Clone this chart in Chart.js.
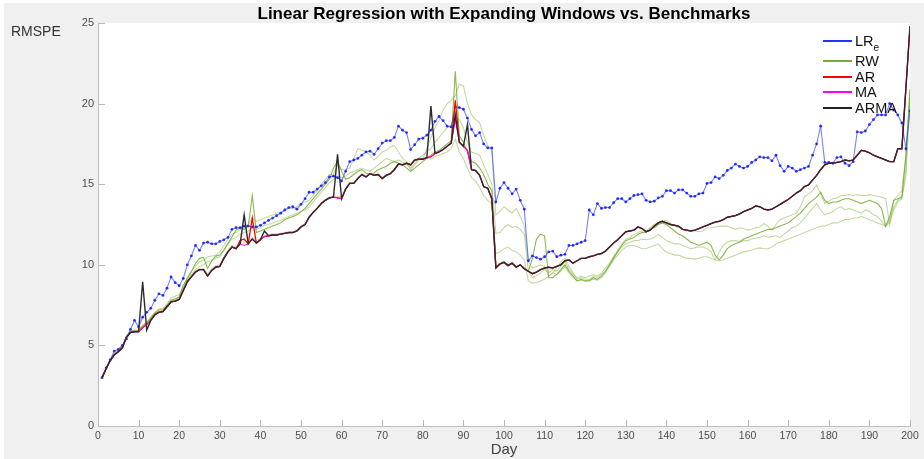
<!DOCTYPE html>
<html>
<head>
<meta charset="utf-8">
<script src="https://cdn.jsdelivr.net/npm/chart.js@4.4.1/dist/chart.umd.min.js"></script>
<style>
  html, body { margin: 0; padding: 0; background: #ffffff; }
  #wrap { position: relative; width: 924px; height: 459px; overflow: hidden; font-family: "Liberation Sans", Arial, Helvetica, sans-serif; }
  #c { position: absolute; left: 0; top: 0; }
  .txt { position: absolute; white-space: nowrap; line-height: 1; }
  #title { left: 504px; top: 13px; transform: translate(-50%, -50%); font-weight: bold; font-size: 17px; color: #000; }
  #ylab { left: 11px; top: 31px; transform: translateY(-50%); font-size: 14px; color: #333; }
  #xlab { left: 504px; top: 448px; transform: translate(-50%, -50%); font-size: 15px; color: #444; }
  .leg { position: absolute; left: 823px; height: 0; }
  .leg .sw { position: absolute; left: 0; width: 29px; height: 2px; top: -1px; }
  .leg .lt { position: absolute; left: 32px; top: 0; transform: translateY(-50%); font-size: 14.5px; color: #111; white-space: nowrap; line-height: 1; }
  .leg .lt sub { font-size: 10px; vertical-align: -5px; line-height: 0; }
</style>
</head>
<body>
<div id="wrap">
  <canvas id="c" width="924" height="459"></canvas>
  <div class="txt" id="title">Linear Regression with Expanding Windows vs. Benchmarks</div>
  <div class="txt" id="ylab">RMSPE</div>
  <div class="txt" id="xlab">Day</div>
  <div class="leg" style="top:41px"><div class="sw" style="background:#2233ff"></div><div class="lt">LR<sub>e</sub></div></div>
  <div class="leg" style="top:61px"><div class="sw" style="background:#77AC30"></div><div class="lt">RW</div></div>
  <div class="leg" style="top:77px"><div class="sw" style="background:#ff0000"></div><div class="lt">AR</div></div>
  <div class="leg" style="top:92px"><div class="sw" style="background:#ff00ff"></div><div class="lt">MA</div></div>
  <div class="leg" style="top:108px"><div class="sw" style="background:#222222"></div><div class="lt">ARMA</div></div>
</div>
<script>
// ---------- categories & ticks ----------
const days = Array.from({ length: 200 }, (_, i) => i + 1);
const xTickValues = [0, 10, 20, 30, 40, 50, 60, 70, 80, 90, 100, 110, 120, 130, 140, 150, 160, 170, 180, 190, 200];
const yTickValues = [0, 5, 10, 15, 20, 25];

// ---------- series values ----------
const LRe = [
  3.0, 3.6, 4.1, 4.65, 4.75, 5.0, 5.4, 6.0, 6.55, 6.15,
  6.75, 7.05, 7.3, 7.8, 8.2, 8.1, 8.55, 9.25, 8.9, 8.7,
  9.15, 10.0, 10.55, 11.2, 10.9, 11.35, 11.4, 11.3, 11.3, 11.45,
  11.55, 11.7, 12.2, 12.3, 12.3, 12.4, 12.4, 12.35, 12.35, 12.45,
  12.6, 12.75, 12.9, 13.05, 13.2, 13.4, 13.55, 13.6, 13.45, 13.75,
  14.1, 14.5, 14.5, 14.7, 14.9, 15.1, 15.45, 15.5, 15.4, 15.2,
  15.8, 16.4, 16.5, 16.6, 16.8, 17.0, 17.05, 16.85, 17.2, 17.55,
  17.7, 17.7, 17.9, 18.6, 18.35, 18.2, 17.15, 17.45, 17.8, 17.85,
  18.05, 18.35, 18.9, 19.2, 18.95, 18.6, 18.55, 19.8, 19.75, 19.65,
  19.1, 18.4, 18.0, 18.2, 17.5, 17.25, 17.25, 13.9, 14.75, 15.1,
  14.75, 14.4, 14.7, 14.0, 13.45, 10.25, 10.55, 10.45, 10.35, 10.5,
  10.8, 10.85, 10.5, 10.6, 10.65, 11.2, 11.2, 11.3, 11.4, 11.5,
  13.4, 13.1, 13.8, 13.5, 13.55, 13.55, 13.85, 14.1, 14.1, 13.9,
  14.1, 14.3, 14.35, 14.4, 14.0, 13.9, 13.95, 14.15, 14.25, 14.6,
  14.6, 14.45, 14.65, 14.65, 14.45, 14.25, 14.25, 14.4, 14.45, 15.05,
  15.1, 15.45, 15.35, 15.55, 15.85, 16.0, 16.25, 16.1, 16.0, 16.1,
  16.35, 16.5, 16.7, 16.65, 16.65, 16.45, 16.8, 16.15, 15.8, 16.1,
  16.0, 15.8, 15.9, 16.0, 16.1, 16.8, 17.5, 18.6, 16.35, 16.35,
  16.3, 16.65, 16.7, 16.3, 16.15, 16.4, 18.25, 18.2, 18.3, 18.7,
  19.0, 19.3, 19.3, 19.3, 20.0, 19.6, 19.3, 18.8, 17.2, 19.55
];

const RW = [
  3.0, 3.6, 4.1, 4.45, 4.65, 4.9, 5.55, 5.85, 5.9, 5.9,
  6.2, 6.4, 6.7, 7.0, 7.2, 7.2, 7.5, 7.8, 7.9, 8.0,
  8.74, 9.15, 9.57, 10.08, 10.4, 10.46, 9.77, 10.25, 10.54, 10.6,
  10.91, 11.33, 11.74, 12.15, 12.3, 12.2, 12.4, 14.3, 12.0, 12.1,
  12.2, 12.3, 12.4, 12.5, 12.6, 12.8, 12.9, 13.0, 13.1, 13.3,
  13.5, 13.8, 14.1, 14.4, 14.7, 15.0, 15.3, 16.0, 16.4, 15.8,
  15.3, 15.4, 15.6, 15.8, 15.9, 15.7, 15.6, 15.7, 15.9, 16.0,
  16.1, 16.3, 16.4, 16.3, 16.2, 16.0, 15.8, 16.0, 16.2, 16.4,
  16.6, 16.8, 17.0, 17.1, 17.3, 17.5, 17.7, 22.0, 18.0, 17.6,
  17.0, 16.4, 16.3, 16.0, 15.6, 15.0, 14.6, 9.9, 10.1, 10.2,
  10.0, 10.1, 9.9, 10.0, 9.8, 9.6, 10.4, 11.6, 11.9, 11.8,
  9.2, 9.2, 9.4, 9.7, 10.0, 9.6, 9.3, 9.0, 9.1, 9.0,
  9.0, 9.2, 9.1, 9.3, 9.6, 10.0, 10.4, 10.8, 11.2, 11.5,
  11.6, 11.7, 11.9, 12.0, 12.0, 12.2, 12.3, 12.5, 12.6, 12.5,
  12.3, 12.1, 11.9, 11.8, 11.6, 11.4, 11.3, 11.2, 11.3, 11.4,
  11.2, 10.6, 10.3, 10.6, 11.0, 11.2, 11.3, 11.4, 11.6, 11.7,
  11.8, 11.9, 12.0, 12.1, 12.2, 12.2, 12.3, 12.4, 12.5, 12.6,
  12.8, 13.0, 13.2, 13.5, 13.8, 14.0, 14.2, 14.5, 14.0, 13.8,
  13.9, 13.9, 14.0, 14.1, 14.1, 14.0, 13.9, 13.8, 13.9, 14.0,
  13.9, 13.8, 13.5, 12.4, 13.0, 14.0, 14.1, 14.2, 16.8, 20.9
];

const RW2 = [
  3.0, 3.6, 4.1, 4.5, 4.7, 4.95, 5.6, 5.9, 5.95, 5.95,
  6.25, 6.45, 6.75, 7.05, 7.25, 7.3, 7.6, 7.95, 8.05, 8.15,
  8.6, 9.2, 9.6, 9.9, 10.2, 10.3, 10.5, 10.55, 10.6, 10.8,
  11.2, 11.6, 11.9, 12.0, 12.2, 12.3, 12.5, 12.9, 12.7, 12.8,
  12.9, 13.0, 13.1, 13.2, 13.25, 13.4, 13.5, 13.5, 13.6, 13.8,
  13.9, 14.0, 14.3, 14.6, 15.0, 15.3, 15.6, 15.6, 16.2, 15.9,
  15.9, 16.0, 16.6, 17.2, 17.1, 17.0, 16.8, 16.5, 16.7, 17.0,
  17.1, 17.3, 17.4, 17.0, 16.6, 16.4, 15.9, 16.2, 16.5, 16.6,
  17.2, 17.9, 18.5, 19.0, 19.6, 20.0, 20.2, 20.5, 21.2, 21.1,
  20.0, 19.3, 19.0, 18.8, 18.0, 17.4, 17.1, 13.1, 13.3, 13.6,
  13.4, 13.2, 13.5, 13.0, 12.4, 10.2, 9.8, 9.9, 10.0, 9.9,
  9.3, 9.5, 9.8, 10.2, 10.4, 9.9, 9.5, 9.1, 9.2, 9.1,
  9.1, 9.3, 9.2, 9.4, 9.6, 10.0, 10.5, 10.9, 11.3, 11.6,
  11.7, 11.9, 12.0, 12.1, 12.1, 12.3, 12.5, 12.6, 12.7, 12.75,
  12.6, 12.4, 12.3, 12.2, 12.1, 12.1, 12.1, 12.05, 12.1, 12.3,
  12.3, 12.35, 12.4, 12.4, 12.4, 12.3, 12.2, 12.3, 12.25, 12.15,
  12.2, 12.3, 12.35, 12.55, 12.4, 12.15, 12.5, 12.8, 12.9, 13.0,
  13.1, 13.2, 13.6, 14.2, 14.4, 14.6, 14.95, 14.4, 13.8, 13.95,
  14.1, 14.15, 14.3, 14.3, 14.35, 14.3, 14.35, 14.3, 14.3, 14.35,
  14.3, 14.25, 14.2, 14.1, 12.5, 14.0, 14.3, 14.6, 16.8, 20.8
];

const RW3 = [
  3.0, 3.58, 4.08, 4.45, 4.65, 4.9, 5.55, 5.85, 5.9, 5.9,
  6.15, 6.35, 6.6, 6.95, 7.1, 7.15, 7.45, 7.75, 7.85, 7.95,
  8.5, 9.05, 9.4, 9.7, 9.9, 10.0, 10.2, 10.25, 10.4, 10.5,
  10.9, 11.3, 11.6, 11.7, 11.9, 12.0, 12.1, 12.3, 12.2, 12.3,
  12.45, 12.5, 12.6, 12.7, 12.75, 12.9, 13.0, 13.1, 13.2, 13.3,
  13.4, 13.6, 13.9, 14.2, 14.5, 14.8, 15.1, 15.3, 15.5, 15.4,
  15.5, 15.7, 15.8, 15.9, 16.0, 15.9, 15.8, 16.0, 16.2, 16.4,
  16.6, 16.5, 16.4, 16.5, 16.4, 16.2, 16.0, 16.3, 16.6, 16.8,
  17.0, 17.2, 17.6, 17.9, 18.2, 18.5, 18.7, 19.2, 19.0, 18.5,
  17.6, 17.0, 16.9, 16.8, 16.2, 15.6, 15.0, 11.95, 12.0, 12.3,
  12.5, 12.3, 12.4, 12.2, 11.9, 9.6, 9.2, 9.3, 9.5, 9.7,
  9.5, 9.7, 9.6, 9.9, 10.2, 9.7, 9.4, 9.2, 9.3, 9.2,
  9.3, 9.4, 9.3, 9.5, 9.8, 10.1, 10.5, 10.8, 11.1, 11.3,
  11.4, 11.5, 11.5, 11.6, 11.55, 11.6, 11.7, 11.9, 11.7, 11.5,
  11.4, 11.3, 11.3, 11.2, 11.1, 11.0, 11.05, 11.1, 11.1, 11.0,
  10.8, 10.3, 10.8, 11.2, 11.4, 11.5, 11.5, 11.45, 11.5, 11.5,
  11.6, 11.65, 11.7, 11.8, 11.7, 11.75, 11.8, 11.7, 11.9, 12.1,
  12.3, 12.4, 12.6, 12.9, 13.2, 13.5, 13.8, 13.4, 13.1, 13.2,
  13.3, 13.5, 13.6, 13.4, 13.5, 13.4, 13.3, 13.2, 13.4, 13.3,
  13.1, 13.0, 12.7, 12.4, 12.8, 13.6, 14.0, 14.2, 16.0, 20.6
];

const RW4 = [
  3.0, 3.57, 4.07, 4.42, 4.62, 4.87, 5.52, 5.82, 5.87, 5.87,
  6.12, 6.32, 6.58, 6.92, 7.08, 7.12, 7.42, 7.72, 7.78, 7.88,
  8.45, 9.0, 9.3, 9.6, 9.75, 9.75, 9.4, 9.75, 9.95, 10.0,
  10.5, 10.9, 11.2, 11.1, 11.4, 11.35, 11.4, 11.7, 11.5, 11.65,
  11.8, 11.85, 11.9, 11.9, 11.95, 12.0, 12.05, 12.05, 12.15, 12.4,
  12.55, 13.0, 13.3, 13.55, 13.85, 14.05, 14.2, 14.25, 14.25, 14.2,
  14.75, 15.1, 15.1, 15.4, 15.65, 15.5, 15.7, 15.6, 15.65, 15.4,
  15.6, 15.7, 15.95, 16.3, 16.25, 16.35, 16.25, 16.55, 16.6, 16.6,
  16.6, 16.55, 16.7, 16.8, 16.9, 17.0, 17.2, 17.8, 17.0, 16.6,
  16.0, 15.4, 15.2, 14.8, 14.3, 14.0, 13.8, 10.7, 10.8, 11.0,
  11.1, 10.9, 10.8, 10.6, 10.3, 9.0, 8.85, 8.9, 9.0, 9.1,
  9.3, 9.5, 9.4, 9.6, 9.9, 9.5, 9.2, 9.0, 9.05, 9.0,
  9.05, 9.1, 9.05, 9.2, 9.5, 9.9, 10.3, 10.6, 10.9, 11.1,
  11.2, 11.2, 11.1, 11.0, 11.0, 11.1, 11.2, 11.3, 11.0, 10.8,
  10.7, 10.6, 10.6, 10.5, 10.4, 10.4, 10.35, 10.4, 10.5, 10.5,
  10.4, 10.3, 10.25, 10.3, 10.4, 10.5, 10.6, 10.7, 10.8, 10.85,
  10.9, 11.0, 11.05, 11.0, 11.0, 11.1, 11.3, 11.4, 11.5, 11.6,
  11.7, 11.8, 11.9, 12.0, 12.1, 12.2, 12.3, 12.4, 12.4, 12.5,
  12.6, 12.6, 12.7, 12.8, 12.8, 12.9, 12.9, 13.0, 12.9, 12.8,
  12.7, 12.6, 12.5, 12.4, 12.6, 13.4, 13.9, 14.1, 15.5, 20.4
];

const AR = [
  3.0, 3.55, 4.05, 4.4, 4.6, 4.85, 5.5, 5.8, 5.85, 5.85,
  6.1, 6.3, 6.55, 6.9, 7.05, 7.1, 7.4, 7.7, 7.75, 7.85,
  8.4, 8.95, 9.25, 9.55, 9.7, 9.7, 9.3, 9.65, 9.85, 9.9,
  10.4, 10.8, 11.1, 11.0, 11.5, 11.6, 11.3, 12.9, 11.35, 11.55,
  11.75, 11.8, 11.85, 11.85, 11.9, 11.95, 12.0, 12.0, 12.1, 12.35,
  12.5, 12.95, 13.25, 13.5, 13.8, 14.0, 14.15, 14.2, 14.15, 14.1,
  14.7, 15.05, 15.05, 15.35, 15.6, 15.45, 15.65, 15.55, 15.6, 15.35,
  15.55, 15.65, 15.9, 16.25, 16.2, 16.3, 16.2, 16.5, 16.55, 16.55,
  16.65, 16.7, 16.9, 17.0, 17.15, 17.35, 17.55, 20.2, 17.6, 17.35,
  17.1, 15.9, 15.85, 15.55, 14.85, 14.75, 14.1, 9.8, 10.05, 10.15,
  9.95, 10.1, 9.85, 10.0, 9.75, 9.6, 9.45, 9.55, 9.7, 9.8,
  9.85, 9.8, 9.9, 10.0, 10.25, 10.3, 10.1, 10.25, 10.4, 10.4,
  10.5, 10.55, 10.65, 10.7, 10.85, 11.1, 11.35, 11.55, 11.8, 12.05,
  12.1, 12.15, 12.35, 12.25, 12.05, 12.15, 12.4, 12.6, 12.7, 12.6,
  12.5, 12.45, 12.4, 12.2, 12.15, 12.1, 12.15, 12.25, 12.35, 12.45,
  12.55, 12.65, 12.7, 12.8, 12.95, 13.0, 13.05, 13.15, 13.3, 13.4,
  13.5, 13.65, 13.6, 13.45, 13.4, 13.45, 13.6, 13.75, 13.9, 14.05,
  14.25, 14.45, 14.6, 14.85, 14.95, 15.25, 15.55, 15.9, 16.2, 16.3,
  16.3, 16.35, 16.4, 16.5, 16.45, 16.5, 16.8, 17.1, 17.05, 16.95,
  16.8, 16.7, 16.6, 16.5, 16.4, 16.4, 17.2, 17.2, 21.0, 24.8
];

const MA = [
  3.0, 3.55, 4.05, 4.4, 4.6, 4.85, 5.5, 5.8, 5.85, 5.85,
  6.1, 6.3, 6.55, 6.9, 7.05, 7.1, 7.4, 7.7, 7.75, 7.85,
  8.4, 8.95, 9.25, 9.55, 9.7, 9.7, 9.3, 9.65, 9.85, 9.9,
  10.4, 10.8, 11.1, 11.0, 11.3, 11.2, 11.3, 11.6, 11.35, 11.55,
  11.75, 11.8, 11.85, 11.85, 11.9, 11.95, 12.0, 12.0, 12.1, 12.35,
  12.5, 12.95, 13.25, 13.5, 13.8, 14.0, 14.15, 14.2, 14.15, 14.1,
  14.7, 15.05, 15.05, 15.35, 15.6, 15.45, 15.65, 15.55, 15.6, 15.35,
  15.55, 15.65, 15.9, 16.25, 16.2, 16.3, 16.2, 16.5, 16.55, 16.55,
  16.65, 16.7, 16.9, 17.0, 17.15, 17.35, 17.55, 19.0, 17.6, 17.35,
  17.1, 15.9, 15.85, 15.55, 14.85, 14.75, 14.1, 9.8, 10.05, 10.15,
  9.95, 10.1, 9.85, 10.0, 9.75, 9.6, 9.45, 9.55, 9.7, 9.8,
  9.85, 9.8, 9.9, 10.0, 10.25, 10.3, 10.1, 10.25, 10.4, 10.4,
  10.5, 10.55, 10.65, 10.7, 10.85, 11.1, 11.35, 11.55, 11.8, 12.05,
  12.1, 12.15, 12.35, 12.25, 12.05, 12.15, 12.4, 12.6, 12.7, 12.6,
  12.5, 12.45, 12.4, 12.2, 12.15, 12.1, 12.15, 12.25, 12.35, 12.45,
  12.55, 12.65, 12.7, 12.8, 12.95, 13.0, 13.05, 13.15, 13.3, 13.4,
  13.5, 13.65, 13.6, 13.45, 13.4, 13.45, 13.6, 13.75, 13.9, 14.05,
  14.25, 14.45, 14.6, 14.85, 14.95, 15.25, 15.55, 15.9, 16.2, 16.3,
  16.3, 16.35, 16.4, 16.5, 16.45, 16.5, 16.8, 17.1, 17.05, 16.95,
  16.8, 16.7, 16.6, 16.5, 16.4, 16.4, 17.2, 17.2, 21.0, 24.8
];

const ARMA = [
  3.0, 3.55, 4.05, 4.4, 4.6, 4.85, 5.5, 5.8, 5.85, 5.85,
  8.95, 5.95, 6.55, 6.9, 7.05, 7.1, 7.4, 7.7, 7.75, 7.85,
  8.4, 8.95, 9.25, 9.55, 9.7, 9.7, 9.3, 9.65, 9.85, 9.9,
  10.4, 10.8, 11.1, 11.0, 11.3, 13.1, 11.3, 11.6, 11.35, 11.55,
  12.1, 11.8, 11.85, 11.85, 11.9, 11.95, 12.0, 12.0, 12.1, 12.35,
  12.5, 12.95, 13.25, 13.5, 13.8, 14.0, 14.15, 14.2, 16.85, 14.1,
  14.7, 15.05, 15.05, 15.35, 15.6, 15.45, 15.65, 15.55, 15.6, 15.35,
  15.55, 15.65, 15.9, 16.25, 16.2, 16.3, 16.2, 16.5, 16.55, 16.55,
  16.65, 19.85, 16.9, 17.0, 17.15, 17.35, 17.55, 19.3, 17.6, 17.35,
  18.7, 15.9, 15.85, 15.55, 14.85, 14.75, 14.1, 9.8, 10.05, 10.15,
  9.95, 10.1, 9.85, 10.0, 9.75, 9.6, 9.45, 9.55, 9.7, 9.8,
  9.85, 9.8, 9.9, 10.0, 10.25, 10.3, 10.1, 10.25, 10.4, 10.4,
  10.5, 10.55, 10.65, 10.7, 10.85, 11.1, 11.35, 11.55, 11.8, 12.05,
  12.1, 12.15, 12.35, 12.25, 12.05, 12.15, 12.4, 12.6, 12.7, 12.6,
  12.5, 12.45, 12.4, 12.2, 12.15, 12.1, 12.15, 12.25, 12.35, 12.45,
  12.55, 12.65, 12.7, 12.8, 12.95, 13.0, 13.05, 13.15, 13.3, 13.4,
  13.5, 13.65, 13.6, 13.45, 13.4, 13.45, 13.6, 13.75, 13.9, 14.05,
  14.25, 14.45, 14.6, 14.85, 14.95, 15.25, 15.55, 15.9, 16.2, 16.3,
  16.3, 16.35, 16.4, 16.5, 16.45, 16.5, 16.8, 17.1, 17.05, 16.95,
  16.8, 16.7, 16.6, 16.5, 16.4, 16.4, 17.2, 17.2, 21.0, 24.8
];

// ---------- build chart ----------
const pts = (arr) => arr.map((v, i) => ({ x: days[i], y: v }));

const bgPlugin = {
  id: 'bg',
  beforeDraw(chart) {
    const { ctx, chartArea: a } = chart;
    ctx.save();
    ctx.fillStyle = '#ffffff';
    ctx.fillRect(0, 0, chart.width, chart.height);
    ctx.fillStyle = '#f0f0f0';
    ctx.fillRect(4, 3, chart.width - 4, chart.height - 3);
    ctx.fillStyle = '#ffffff';
    ctx.fillRect(a.left, a.top, a.right - a.left, a.bottom - a.top);
    ctx.restore();
  },
  afterDraw(chart) {
    const { ctx, chartArea: a, scales } = chart;
    ctx.save();
    ctx.strokeStyle = '#b8b8b8';
    ctx.lineWidth = 1;
    ctx.beginPath();
    xTickValues.forEach(v => {
      const px = Math.round(scales.x.getPixelForValue(v)) + 0.5;
      ctx.moveTo(px, a.bottom);
      ctx.lineTo(px, a.bottom - 6);
    });
    yTickValues.forEach(v => {
      const py = Math.round(scales.y.getPixelForValue(v)) + 0.5;
      ctx.moveTo(a.left, py);
      ctx.lineTo(a.left + 7, py);
    });
    ctx.stroke();
    ctx.restore();
  }
};

const lightGreen = 'rgba(119,172,48,0.45)';
const common = { pointRadius: 0, borderWidth: 1.1, tension: 0, fill: false };

new Chart(document.getElementById('c'), {
  type: 'line',
  data: {
    datasets: [
      { label: 'ARMA', data: pts(ARMA), borderColor: '#2a2a2a', order: 0, ...common, borderWidth: 1.4 },
      { label: 'MA', data: pts(MA), borderColor: '#ff00ff', order: 1, ...common, borderWidth: 1.0 },
      { label: 'AR', data: pts(AR), borderColor: '#ff0000', order: 2, ...common, borderWidth: 1.3 },
      { label: 'LRe', data: pts(LRe), borderColor: 'rgba(30,45,255,0.6)', order: 3, ...common,
        pointRadius: 1.4, pointBackgroundColor: 'rgba(20,30,255,0.9)', pointBorderWidth: 0 },
      { label: 'RW', data: pts(RW), borderColor: 'rgba(119,172,48,0.85)', order: 4, ...common },
      { label: 'RW2', data: pts(RW2), borderColor: lightGreen, order: 5, ...common },
      { label: 'RW3', data: pts(RW3), borderColor: lightGreen, order: 5, ...common },
      { label: 'RW4', data: pts(RW4), borderColor: lightGreen, order: 5, ...common }
    ]
  },
  options: {
    responsive: false,
    animation: false,
    devicePixelRatio: 1,
    events: [],
    layout: { padding: { left: 0, right: 14, top: 23, bottom: 0 } },
    plugins: { legend: { display: false }, title: { display: false }, tooltip: { enabled: false } },
    scales: {
      x: {
        type: 'linear', min: 0, max: 200,
        afterFit(s) { s.height = 33; },
        afterBuildTicks(s) { s.ticks = xTickValues.map(v => ({ value: v })); },
        grid: { display: false, drawTicks: false },
        border: { display: true, color: '#bdbdbd', width: 1 },
        ticks: { padding: 4, color: '#4d4d4d', font: { family: '"Liberation Sans", Arial, sans-serif', size: 10.5 }, maxRotation: 0, autoSkip: false }
      },
      y: {
        type: 'linear', min: 0, max: 25,
        afterFit(s) { s.width = 98; },
        afterBuildTicks(s) { s.ticks = yTickValues.map(v => ({ value: v })); },
        grid: { display: false, drawTicks: false },
        border: { display: true, color: '#bdbdbd', width: 1 },
        ticks: { padding: 4, color: '#4d4d4d', font: { family: '"Liberation Sans", Arial, sans-serif', size: 11 } }
      }
    }
  },
  plugins: [bgPlugin]
});
</script>
</body>
</html>
